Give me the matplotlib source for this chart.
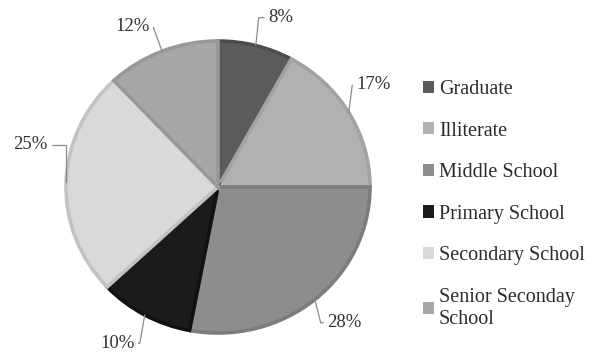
import matplotlib
matplotlib.use("Agg")
import matplotlib.pyplot as plt
import numpy as np

categories = ["Graduate", "Illiterate", "Middle School", "Primary School",
              "Secondary School", "Senior Seconday\nSchool"]
values = [8, 17, 28, 10, 25, 12]
pct_labels = ["8%", "17%", "28%", "10%", "25%", "12%"]

fills = ["#5b5b5b", "#b1b1b1", "#8d8d8d", "#1b1b1b", "#d9d9d9", "#a7a7a7"]
edges = ["#4c4c4c", "#a2a2a2", "#7c7c7c", "#111111", "#c3c3c3", "#989898"]

plt.rcParams['font.family'] = ['Liberation Serif', 'DejaVu Serif']

fig = plt.figure(figsize=(6.0, 3.56), dpi=100)
ax = fig.add_axes([0, 0, 1, 1])

wedges, _ = ax.pie(values, colors=fills, startangle=90, counterclock=False,
                   wedgeprops=dict(linewidth=2.6))
for w, ec in zip(wedges, edges):
    w.set_edgecolor(ec)
    w.set_joinstyle('miter')

ax.set_aspect('auto')
ax.set_xlim(-218 / 152, (600 - 218) / 152)
ax.set_ylim(-169 / 146, 187 / 146)
ax.axis('off')

# label layout (style only)
label_pos = [(0.33, 1.16), (0.91, 0.70), (0.72, -0.93),
             (-0.55, -1.07), (-1.12, 0.29), (-0.45, 1.10)]
leader_angles = [84, 83, 104, 80, 90, 110]
for w, lab, (tx, ty), ang in zip(wedges, pct_labels, label_pos, leader_angles):
    mid = np.deg2rad((w.theta1 + w.theta2) / 2)
    ex, ey = np.cos(mid), np.sin(mid)
    right = tx > 0
    ax.annotate(lab, xy=(ex, ey), xytext=(tx, ty),
                ha='left' if right else 'right', va='center',
                fontsize=13.5, color='#333333',
                arrowprops=dict(arrowstyle='-', color='#8a8a8a', lw=0.9,
                                shrinkA=1, shrinkB=0,
                                connectionstyle=f'angle,angleA=0,angleB={ang},rad=0'))

leg = ax.legend(wedges, categories, loc='upper left',
                bbox_to_anchor=(423 / 600, 1 - 80 / 356),
                bbox_transform=fig.transFigure, frameon=False,
                fontsize=14.5, handlelength=0.55, handleheight=0.55,
                handletextpad=0.25, labelspacing=1.12, borderpad=0,
                borderaxespad=0)
for t in leg.get_texts():
    t.set_color('#2b2b2b')
    t.set_linespacing(1.25)
for h, c in zip(leg.legend_handles, fills):
    h.set_edgecolor(c)
    h.set_linewidth(0)

fig.savefig("out.png", dpi=100, facecolor='white')
